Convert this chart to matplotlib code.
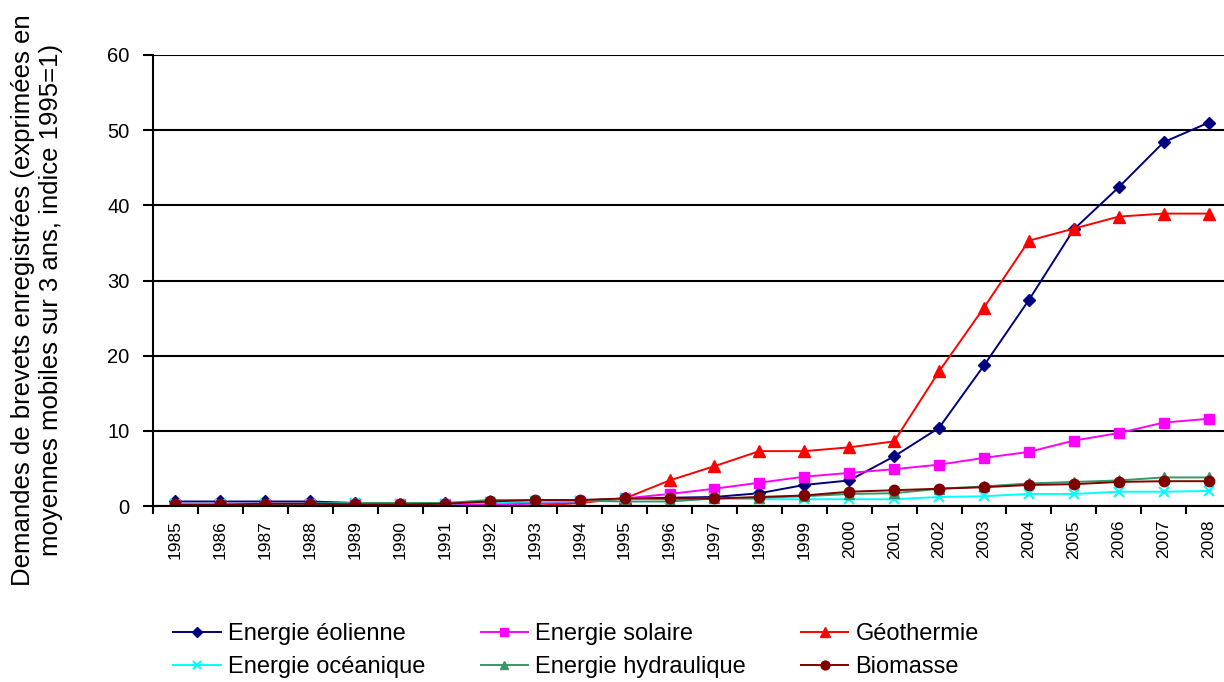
import numpy as np
import matplotlib
matplotlib.use("Agg")
import matplotlib.pyplot as plt

plt.rcParams['font.family'] = ['Liberation Sans', 'DejaVu Sans']

years = [str(y) for y in range(1985, 2009)]

eolienne = [0.6, 0.6, 0.6, 0.6, 0.4, 0.3, 0.4, 0.5, 0.6, 0.7, 1.0,
            1.1, 1.2, 1.7, 2.8, 3.4, 6.6, 10.4, 18.7, 27.4, 36.8, 42.4, 48.4, 51.0]
solaire = [0.1, 0.1, 0.1, 0.2, 0.2, 0.2, 0.2, 0.2, 0.3, 0.5, 1.0,
           1.6, 2.3, 3.1, 3.9, 4.4, 4.9, 5.5, 6.4, 7.2, 8.7, 9.7, 11.1, 11.6]
geothermie = [0.0, 0.0, 0.0, 0.0, 0.0, 0.0, 0.0, 0.0, 0.0, 0.4, 1.0,
              3.4, 5.3, 7.3, 7.3, 7.8, 8.6, 17.9, 26.4, 35.3, 36.9, 38.5, 38.9, 38.9]
oceanique = [0.2, 0.2, 0.2, 0.3, 0.4, 0.3, 0.3, 0.5, 0.6, 0.6, 1.0,
             0.9, 1.0, 0.9, 0.9, 0.9, 0.9, 1.2, 1.3, 1.6, 1.6, 1.9, 1.9, 2.0]
hydraulique = [0.1, 0.1, 0.2, 0.3, 0.4, 0.4, 0.4, 0.8, 0.8, 0.7, 0.6,
               0.6, 1.0, 1.1, 1.3, 1.6, 1.7, 2.3, 2.6, 3.0, 3.2, 3.4, 3.8, 3.8]
biomasse = [0.2, 0.2, 0.3, 0.3, 0.2, 0.2, 0.3, 0.6, 0.8, 0.8, 1.0,
            1.0, 1.0, 1.2, 1.4, 1.9, 2.1, 2.3, 2.5, 2.8, 2.9, 3.2, 3.3, 3.3]

x = np.arange(len(years))

fig = plt.figure(figsize=(12.24, 6.82), dpi=100)
ax = fig.add_axes([153/1224, 1-506/682, (1231-153)/1224, (506-55)/682])

lw = 1.4
l1, = ax.plot(x, eolienne, color='#000080', marker='D', ms=6, lw=lw, label='Energie éolienne')
l2, = ax.plot(x, solaire, color='#FF00FF', marker='s', ms=7, lw=lw, label='Energie solaire')
l3, = ax.plot(x, geothermie, color='#FF0000', marker='^', ms=8, lw=lw, label='Géothermie')
l4, = ax.plot(x, oceanique, color='#00FFFF', marker='x', ms=7, mew=1.5, lw=lw, label='Energie océanique')
l5, = ax.plot(x, hydraulique, color='#339966', marker='^', ms=7, lw=lw, label='Energie hydraulique')
l6, = ax.plot(x, biomasse, color='#800000', marker='o', ms=7.5, lw=lw, label='Biomasse')

ax.set_xlim(-0.5, len(years) - 0.5)
ax.set_ylim(0, 60)
ax.set_yticks(np.arange(0, 61, 10))
ax.yaxis.grid(True, color='black', lw=1.5)
ax.set_axisbelow(True)

ax.set_xticks(x)
ax.set_xticklabels(years, rotation=90, fontsize=12.5)
ax.set_xticks(np.arange(-0.5, len(years), 1), minor=True)
ax.tick_params(axis='x', which='major', length=0, pad=10)
ax.tick_params(axis='x', which='minor', length=6, width=1.5, direction='out')
ax.tick_params(axis='y', length=7, width=1.5, direction='out', labelsize=14.5, pad=10)

for s in ['top', 'right']:
    ax.spines[s].set_visible(False)
for s in ['left', 'bottom']:
    ax.spines[s].set_linewidth(1.5)

fig.text(37/1224, 1-300/682,
         'Demandes de brevets enregistrées (exprimées en\nmoyennes mobiles sur 3 ans, indice 1995=1)',
         rotation=90, ha='center', va='center', fontsize=18.5, linespacing=1.2)

handles = [l1, l4, l2, l5, l3, l6]
fig.legend(handles=handles, labels=[h.get_label() for h in handles], ncol=3,
           loc='upper left', bbox_to_anchor=(164/1224, 1-614/682), frameon=False,
           fontsize=17, handlelength=2.0, columnspacing=2.35, labelspacing=0.45,
           handletextpad=0.3, borderaxespad=0, markerscale=0.85)

fig.savefig('out.png', dpi=100)
